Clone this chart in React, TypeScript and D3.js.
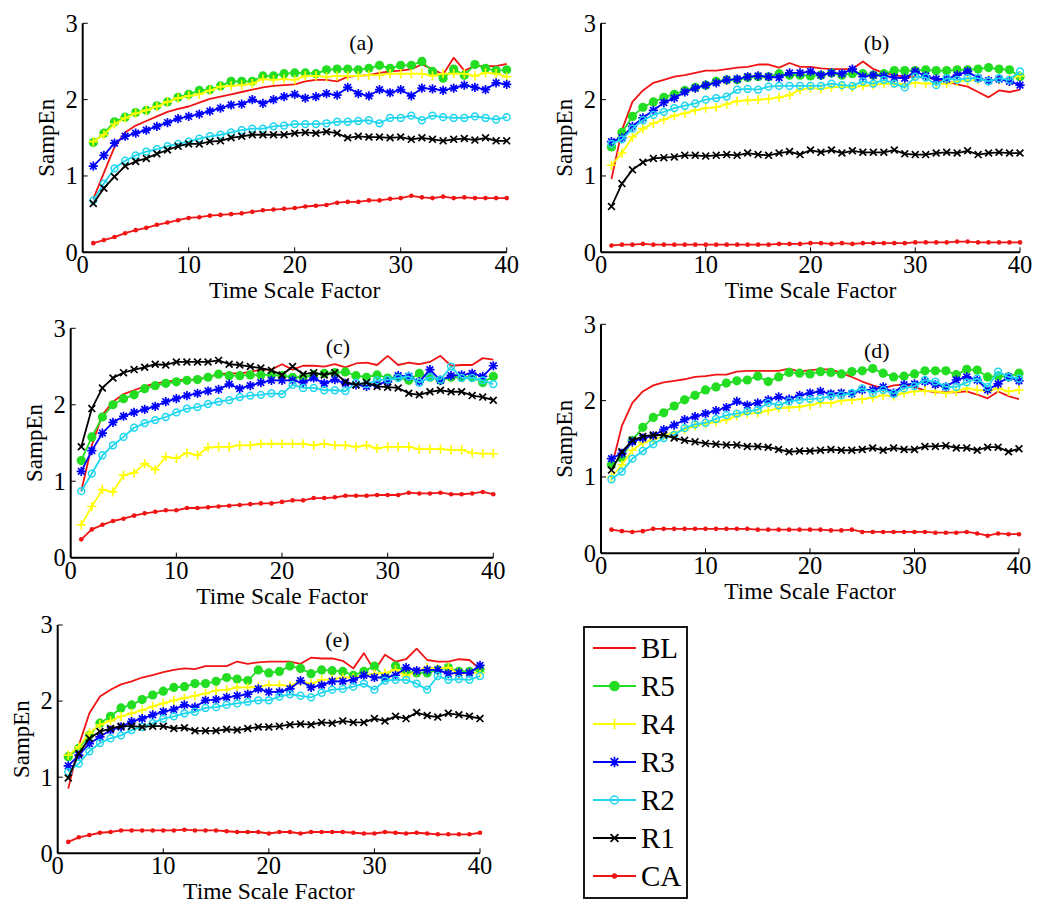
import React from "react";
import * as d3 from "d3";

const SERIES = ["BL", "R5", "R4", "R3", "R2", "R1", "CA"];
const X_TICKS = [0, 10, 20, 30, 40];
const Y_TICKS = [0, 1, 2, 3];
const SCALES = d3.range(1, 41);

// Panel (a)
const aBL = [0.7,1.04,1.38,1.57,1.66,1.72,1.78,1.84,1.88,1.91,1.96,2.01,2.04,2.07,2.1,2.13,2.16,2.18,2.19,2.2,2.24,2.26,2.26,2.24,2.3,2.31,2.32,2.35,2.37,2.38,2.4,2.46,2.4,2.33,2.55,2.38,2.44,2.44,2.44,2.47];
const aR5 = [1.44,1.56,1.71,1.77,1.83,1.86,1.92,1.97,2.03,2.07,2.12,2.13,2.18,2.24,2.24,2.24,2.31,2.31,2.34,2.35,2.35,2.34,2.39,2.4,2.4,2.39,2.41,2.45,2.41,2.45,2.45,2.5,2.37,2.28,2.4,2.32,2.46,2.41,2.38,2.39];
const aR4 = [1.45,1.54,1.68,1.76,1.82,1.86,1.91,1.97,2.02,2.05,2.07,2.12,2.17,2.18,2.19,2.21,2.27,2.26,2.27,2.26,2.31,2.31,2.3,2.31,2.31,2.31,2.32,2.32,2.34,2.34,2.34,2.34,2.31,2.34,2.34,2.34,2.31,2.35,2.34,2.3];
const aR3 = [1.13,1.27,1.43,1.52,1.56,1.6,1.65,1.7,1.75,1.78,1.81,1.85,1.89,1.93,1.94,2.0,1.95,2.0,2.04,2.07,2.02,2.04,2.08,2.06,2.16,2.08,2.05,2.13,2.09,2.13,2.05,2.15,2.14,2.12,2.15,2.19,2.16,2.13,2.22,2.2];
const aR2 = [0.68,0.9,1.1,1.2,1.27,1.32,1.35,1.39,1.42,1.45,1.49,1.52,1.54,1.57,1.6,1.62,1.62,1.65,1.66,1.68,1.68,1.68,1.69,1.71,1.71,1.72,1.73,1.69,1.76,1.76,1.79,1.73,1.79,1.77,1.76,1.76,1.78,1.76,1.74,1.77];
const aR1 = [0.64,0.84,0.99,1.13,1.19,1.23,1.29,1.34,1.39,1.42,1.42,1.45,1.46,1.5,1.52,1.54,1.54,1.54,1.54,1.56,1.57,1.56,1.58,1.56,1.5,1.52,1.51,1.51,1.5,1.51,1.48,1.5,1.48,1.46,1.48,1.49,1.47,1.5,1.46,1.46];
const aCA = [0.12,0.16,0.2,0.25,0.29,0.32,0.36,0.39,0.42,0.45,0.46,0.48,0.49,0.5,0.51,0.53,0.55,0.56,0.57,0.58,0.6,0.61,0.62,0.65,0.66,0.66,0.68,0.68,0.7,0.71,0.74,0.72,0.71,0.73,0.71,0.72,0.71,0.71,0.71,0.71];

// Panel (b)
const bBL = [0.96,1.6,1.97,2.12,2.22,2.26,2.3,2.32,2.35,2.38,2.38,2.4,2.42,2.43,2.46,2.46,2.42,2.48,2.43,2.43,2.41,2.4,2.4,2.4,2.5,2.4,2.35,2.32,2.3,2.3,2.29,2.27,2.24,2.2,2.17,2.1,2.03,2.12,2.1,2.13];
const bR5 = [1.38,1.57,1.78,1.9,1.97,2.03,2.07,2.12,2.16,2.19,2.24,2.26,2.26,2.29,2.3,2.3,2.34,2.32,2.32,2.31,2.32,2.35,2.32,2.34,2.34,2.32,2.34,2.38,2.38,2.38,2.39,2.38,2.38,2.39,2.39,2.4,2.42,2.4,2.39,2.3];
const bR4 = [1.14,1.3,1.51,1.62,1.69,1.74,1.79,1.82,1.86,1.89,1.9,1.94,1.98,1.99,2.0,2.01,2.03,2.06,2.13,2.15,2.14,2.16,2.17,2.16,2.18,2.19,2.21,2.21,2.2,2.22,2.21,2.21,2.21,2.24,2.25,2.26,2.26,2.26,2.27,2.31];
const bR3 = [1.45,1.5,1.65,1.76,1.86,1.96,2.02,2.1,2.15,2.19,2.22,2.26,2.27,2.3,2.31,2.3,2.29,2.35,2.35,2.37,2.32,2.35,2.34,2.4,2.3,2.32,2.31,2.29,2.28,2.37,2.31,2.27,2.27,2.32,2.37,2.28,2.25,2.27,2.24,2.19];
const bR2 = [1.42,1.48,1.62,1.73,1.8,1.84,1.89,1.92,1.95,2.0,2.02,2.04,2.13,2.14,2.13,2.17,2.18,2.18,2.18,2.18,2.18,2.21,2.19,2.18,2.24,2.21,2.26,2.21,2.16,2.3,2.29,2.19,2.28,2.26,2.28,2.28,2.24,2.28,2.26,2.37];
const bR1 = [0.6,0.9,1.08,1.18,1.23,1.24,1.25,1.27,1.27,1.26,1.27,1.28,1.27,1.3,1.28,1.27,1.3,1.32,1.28,1.34,1.31,1.34,1.3,1.33,1.31,1.31,1.31,1.34,1.29,1.28,1.28,1.3,1.31,1.3,1.33,1.28,1.3,1.31,1.3,1.3];
const bCA = [0.09,0.1,0.1,0.11,0.1,0.1,0.1,0.1,0.1,0.1,0.1,0.1,0.1,0.1,0.1,0.1,0.11,0.11,0.11,0.12,0.12,0.11,0.12,0.11,0.12,0.12,0.12,0.12,0.12,0.13,0.13,0.13,0.13,0.14,0.14,0.13,0.13,0.13,0.13,0.13];

// Panel (c)
const cBL = [0.87,1.47,1.87,2.04,2.14,2.19,2.24,2.28,2.3,2.32,2.33,2.33,2.36,2.4,2.41,2.41,2.43,2.46,2.46,2.53,2.46,2.51,2.51,2.5,2.53,2.49,2.54,2.55,2.52,2.64,2.52,2.55,2.53,2.56,2.64,2.51,2.52,2.52,2.61,2.59];
const cR5 = [1.27,1.58,1.84,2.0,2.08,2.13,2.21,2.25,2.28,2.3,2.32,2.33,2.36,2.4,2.38,2.38,2.39,2.39,2.39,2.38,2.36,2.36,2.39,2.41,2.42,2.43,2.38,2.36,2.39,2.35,2.36,2.32,2.41,2.36,2.32,2.36,2.36,2.36,2.29,2.37];
const cR4 = [0.43,0.67,0.89,0.86,1.08,1.11,1.23,1.15,1.32,1.3,1.37,1.34,1.44,1.45,1.45,1.47,1.47,1.49,1.49,1.49,1.49,1.49,1.47,1.49,1.47,1.47,1.45,1.47,1.43,1.45,1.45,1.45,1.42,1.42,1.42,1.41,1.41,1.37,1.36,1.36];
const cR3 = [1.13,1.4,1.63,1.77,1.85,1.9,1.94,1.98,2.04,2.08,2.12,2.15,2.18,2.2,2.27,2.21,2.25,2.29,2.32,2.32,2.32,2.29,2.35,2.28,2.33,2.28,2.26,2.24,2.27,2.3,2.38,2.37,2.3,2.46,2.32,2.38,2.39,2.41,2.37,2.51];
const cR2 = [0.87,1.1,1.34,1.47,1.58,1.7,1.76,1.8,1.84,1.9,1.95,1.97,2.01,2.04,2.06,2.1,2.12,2.13,2.15,2.14,2.26,2.22,2.22,2.19,2.19,2.18,2.29,2.27,2.32,2.33,2.35,2.37,2.29,2.36,2.33,2.5,2.35,2.35,2.32,2.27];
const cR1 = [1.45,1.95,2.22,2.35,2.42,2.46,2.49,2.53,2.52,2.56,2.56,2.56,2.56,2.58,2.53,2.52,2.5,2.48,2.45,2.39,2.5,2.4,2.42,2.39,2.42,2.3,2.26,2.29,2.24,2.23,2.22,2.15,2.13,2.17,2.19,2.17,2.17,2.12,2.1,2.06];
const cCA = [0.24,0.37,0.43,0.48,0.51,0.55,0.58,0.6,0.62,0.62,0.65,0.65,0.66,0.67,0.68,0.69,0.7,0.71,0.71,0.73,0.75,0.75,0.78,0.78,0.79,0.81,0.81,0.81,0.82,0.82,0.82,0.85,0.84,0.84,0.85,0.83,0.83,0.84,0.86,0.83];

// Panel (d)
const dBL = [1.12,1.67,1.97,2.12,2.2,2.24,2.26,2.28,2.31,2.32,2.34,2.34,2.38,2.39,2.39,2.39,2.39,2.42,2.38,2.4,2.41,2.41,2.36,2.31,2.25,2.2,2.16,2.2,2.21,2.18,2.13,2.11,2.11,2.11,2.12,2.08,2.03,2.12,2.06,2.02];
const dR5 = [1.16,1.25,1.48,1.65,1.78,1.84,1.93,2.01,2.07,2.14,2.18,2.23,2.26,2.27,2.32,2.25,2.31,2.37,2.36,2.35,2.38,2.37,2.35,2.38,2.39,2.42,2.36,2.31,2.32,2.35,2.39,2.39,2.39,2.34,2.41,2.4,2.31,2.32,2.31,2.36];
const dR4 = [1.0,1.16,1.35,1.45,1.49,1.54,1.58,1.62,1.67,1.7,1.72,1.75,1.8,1.83,1.84,1.87,1.9,1.91,1.92,1.94,1.97,1.97,2.0,2.01,2.02,2.04,2.07,2.06,2.1,2.12,2.13,2.12,2.1,2.12,2.16,2.14,2.12,2.16,2.12,2.14];
const dR3 = [1.24,1.31,1.46,1.51,1.54,1.62,1.68,1.75,1.79,1.83,1.87,1.91,1.99,1.94,1.97,2.01,2.05,2.02,2.07,2.1,2.12,2.09,2.1,2.09,2.14,2.14,2.18,2.1,2.21,2.22,2.25,2.21,2.18,2.27,2.31,2.27,2.14,2.22,2.31,2.26];
const dR2 = [0.97,1.07,1.24,1.34,1.43,1.51,1.55,1.64,1.69,1.71,1.76,1.81,1.83,1.86,1.88,1.97,1.94,1.99,2.01,2.02,2.03,2.06,2.07,2.1,2.16,2.1,2.14,2.09,2.16,2.19,2.27,2.25,2.18,2.18,2.24,2.29,2.18,2.38,2.31,2.29];
const dR1 = [1.09,1.33,1.48,1.53,1.55,1.55,1.51,1.48,1.46,1.44,1.43,1.42,1.42,1.4,1.4,1.39,1.36,1.33,1.34,1.34,1.35,1.36,1.35,1.35,1.36,1.38,1.35,1.38,1.36,1.36,1.4,1.4,1.41,1.38,1.38,1.35,1.39,1.39,1.33,1.37];
const dCA = [0.31,0.29,0.28,0.29,0.32,0.32,0.32,0.32,0.32,0.32,0.32,0.32,0.32,0.32,0.31,0.31,0.31,0.31,0.31,0.31,0.31,0.3,0.3,0.31,0.28,0.28,0.28,0.28,0.28,0.28,0.28,0.27,0.27,0.27,0.28,0.26,0.23,0.26,0.25,0.25];

// Panel (e)
const eBL = [0.85,1.42,1.84,2.06,2.15,2.22,2.26,2.31,2.34,2.38,2.41,2.43,2.42,2.46,2.46,2.46,2.52,2.49,2.51,2.52,2.52,2.52,2.49,2.57,2.56,2.56,2.53,2.43,2.63,2.4,2.61,2.52,2.55,2.69,2.54,2.52,2.52,2.55,2.54,2.42];
const eR5 = [1.27,1.38,1.55,1.71,1.8,1.91,1.95,2.02,2.08,2.13,2.18,2.19,2.23,2.23,2.26,2.31,2.29,2.27,2.41,2.37,2.39,2.46,2.43,2.36,2.41,2.4,2.39,2.34,2.39,2.46,2.31,2.46,2.39,2.37,2.37,2.41,2.44,2.39,2.39,2.42];
const eR4 = [1.29,1.4,1.58,1.69,1.74,1.8,1.84,1.88,1.93,1.97,2.01,2.04,2.07,2.1,2.14,2.15,2.18,2.18,2.19,2.21,2.21,2.2,2.26,2.23,2.28,2.29,2.31,2.31,2.34,2.36,2.37,2.41,2.33,2.39,2.44,2.43,2.44,2.36,2.37,2.37];
const eR3 = [1.15,1.29,1.44,1.53,1.62,1.66,1.73,1.77,1.82,1.86,1.89,1.95,1.92,2.01,2.02,2.05,2.07,2.09,2.16,2.12,2.12,2.16,2.27,2.18,2.21,2.26,2.26,2.28,2.34,2.31,2.31,2.34,2.44,2.4,2.41,2.41,2.36,2.37,2.37,2.47];
const eR2 = [1.07,1.18,1.34,1.45,1.51,1.55,1.62,1.66,1.71,1.77,1.8,1.84,1.86,1.91,1.92,1.95,1.97,1.99,2.01,2.01,2.06,2.09,2.07,2.05,2.11,2.15,2.16,2.19,2.23,2.15,2.27,2.28,2.28,2.23,2.15,2.33,2.28,2.29,2.28,2.33];
const eR1 = [0.99,1.31,1.51,1.6,1.64,1.67,1.67,1.66,1.67,1.67,1.64,1.65,1.61,1.61,1.61,1.63,1.62,1.64,1.66,1.66,1.67,1.69,1.7,1.69,1.72,1.71,1.74,1.72,1.72,1.77,1.74,1.8,1.77,1.85,1.81,1.79,1.84,1.82,1.8,1.77];
const eCA = [0.15,0.21,0.24,0.27,0.28,0.3,0.3,0.3,0.3,0.3,0.3,0.31,0.3,0.3,0.3,0.29,0.28,0.28,0.28,0.26,0.28,0.28,0.26,0.28,0.28,0.28,0.28,0.27,0.26,0.26,0.28,0.27,0.26,0.27,0.26,0.25,0.25,0.25,0.25,0.27];

const STYLE: Record<string, { color: string; marker: string }> = {
  BL: { color: "#f01414", marker: "none" },
  R5: { color: "#22dd22", marker: "disc" },
  R4: { color: "#ffff00", marker: "plus" },
  R3: { color: "#0000ff", marker: "star" },
  R2: { color: "#1fd6ee", marker: "ring" },
  R1: { color: "#000000", marker: "cross" },
  CA: { color: "#f01414", marker: "dot" },
};

const PANELS = [
  { label: "(a)", left: 82.7, right: 506.7, top: 23.3, bottom: 252.3, tx: 26.3, ty: 27, data: [aBL, aR5, aR4, aR3, aR2, aR1, aCA] },
  { label: "(b)", left: 601, right: 1020, top: 23.3, bottom: 252.3, tx: 26.3, ty: 27, data: [bBL, bR5, bR4, bR3, bR2, bR1, bCA] },
  { label: "(c)", left: 70.7, right: 493.3, top: 328.3, bottom: 557.7, tx: 25.3, ty: 26, data: [cBL, cR5, cR4, cR3, cR2, cR1, cCA] },
  { label: "(d)", left: 601, right: 1019, top: 324.3, bottom: 553.3, tx: 26.4, ty: 34, data: [dBL, dR5, dR4, dR3, dR2, dR1, dCA] },
  { label: "(e)", left: 57.7, right: 480, top: 625, bottom: 853.3, tx: 26.5, ty: 22, data: [eBL, eR5, eR4, eR3, eR2, eR1, eCA] },
];

const FONT = "'Liberation Serif', 'Times New Roman', serif";

function Marker({ kind, x, y, color, scale = 1 }: { kind: string; x: number; y: number; color: string; scale?: number }) {
  const s = scale;
  switch (kind) {
    case "disc":
      return <circle cx={x} cy={y} r={4.6 * s} fill={color} />;
    case "dot":
      return <circle cx={x} cy={y} r={2.3 * s} fill={color} />;
    case "ring":
      return <circle cx={x} cy={y} r={3.4 * s} fill="none" stroke={color} strokeWidth={1.5} />;
    case "plus": {
      const h = 4.6 * s;
      return <path d={`M${x - h},${y}H${x + h}M${x},${y - h}V${y + h}`} stroke={color} strokeWidth={1.6} />;
    }
    case "cross": {
      const h = 3.4 * s;
      return <path d={`M${x - h},${y - h}L${x + h},${y + h}M${x - h},${y + h}L${x + h},${y - h}`} stroke={color} strokeWidth={1.7} />;
    }
    case "star": {
      const h = 4.6 * s;
      const g = 3.3 * s;
      return (
        <path
          d={`M${x - h},${y}H${x + h}M${x},${y - h}V${y + h}M${x - g},${y - g}L${x + g},${y + g}M${x - g},${y + g}L${x + g},${y - g}`}
          stroke={color}
          strokeWidth={1.7}
        />
      );
    }
    default:
      return null;
  }
}

function Panel({ p }: { p: (typeof PANELS)[number] }) {
  const x = d3.scaleLinear().domain([0, 40]).range([p.left, p.right]);
  const y = d3.scaleLinear().domain([0, 3]).range([p.bottom, p.top]);
  const line = d3
    .line<number>()
    .x((_, i) => x(SCALES[i]))
    .y((v) => y(v));
  const cx = (p.left + p.right) / 2;
  const cy = (p.top + p.bottom) / 2;
  return (
    <g>
      {p.data.map((vals, si) => {
        const st = STYLE[SERIES[si]];
        return (
          <g key={si}>
            <path d={line(vals) || ""} fill="none" stroke={st.color} strokeWidth={1.8} strokeLinejoin="round" />
            {st.marker !== "none" &&
              vals.map((v, i) => <Marker key={i} kind={st.marker} x={x(SCALES[i])} y={y(v)} color={st.color} />)}
          </g>
        );
      })}
      <line x1={p.left} x2={p.right} y1={p.bottom} y2={p.bottom} stroke="#000" strokeWidth={2} />
      <line x1={p.left} x2={p.left} y1={p.top} y2={p.bottom} stroke="#000" strokeWidth={2} />
      {X_TICKS.map((t) => (
        <g key={"x" + t}>
          <line x1={x(t)} x2={x(t)} y1={p.bottom} y2={p.bottom - 5} stroke="#000" strokeWidth={1} />
          <text x={x(t)} y={p.bottom + 21} textAnchor="middle" fontSize={24.5} fontFamily={FONT}>
            {t}
          </text>
        </g>
      ))}
      {Y_TICKS.map((t) => (
        <g key={"y" + t}>
          <line x1={p.left} x2={p.left + 5} y1={y(t)} y2={y(t)} stroke="#000" strokeWidth={1} />
          <text x={p.left - 5} y={y(t)} dy="0.34em" textAnchor="end" fontSize={24.5} fontFamily={FONT}>
            {t}
          </text>
        </g>
      ))}
      <text x={cx} y={p.bottom + 46} textAnchor="middle" fontSize={23.5} fontFamily={FONT}>
        Time Scale Factor
      </text>
      <text
        transform={`translate(${p.left - 29},${cy}) rotate(-90)`}
        textAnchor="middle"
        fontSize={23}
        fontFamily={FONT}
      >
        SampEn
      </text>
      <text x={x(p.tx)} y={p.top + p.ty} textAnchor="middle" fontSize={22} fontFamily={FONT}>
        {p.label}
      </text>
    </g>
  );
}

function Legend() {
  const box = { x: 584, y: 627, w: 103, h: 271 };
  const y0 = 648;
  const step = 38;
  return (
    <g>
      <rect x={box.x} y={box.y} width={box.w} height={box.h} fill="#fff" stroke="#000" strokeWidth={1.8} />
      {SERIES.map((s, i) => {
        const st = STYLE[s];
        const yy = y0 + i * step;
        return (
          <g key={s}>
            <line x1={593} x2={636} y1={yy} y2={yy} stroke={st.color} strokeWidth={1.8} />
            <Marker kind={st.marker} x={614.5} y={yy} color={st.color} scale={1.15} />
            <text x={641} y={yy} dy="0.36em" fontSize={29} fontFamily={FONT}>
              {s}
            </text>
          </g>
        );
      })}
    </g>
  );
}

export default function App() {
  return (
    <svg width={1050} height={914} style={{ position: "absolute", left: 0, top: 0, background: "#fff" }}>
      <rect width={1050} height={914} fill="#fff" />
      {PANELS.map((p) => (
        <Panel key={p.label} p={p} />
      ))}
      <Legend />
    </svg>
  );
}
